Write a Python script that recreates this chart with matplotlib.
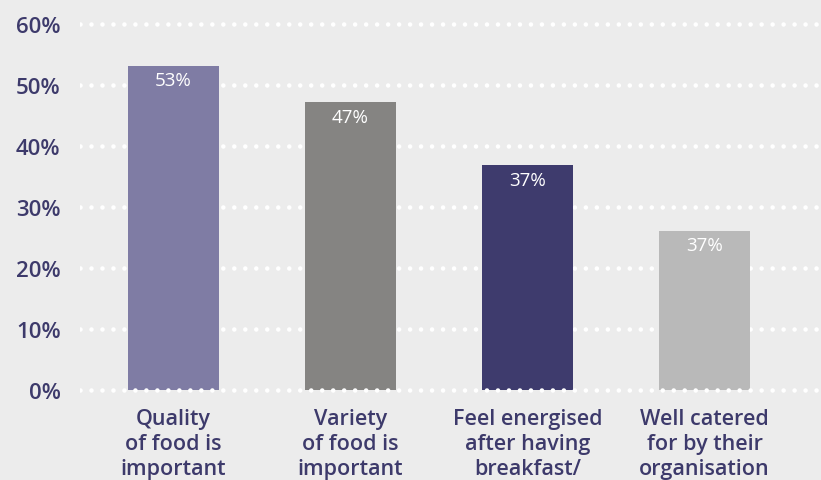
import numpy as np
import matplotlib
matplotlib.use('Agg')
import matplotlib.pyplot as plt

# data
categories = ['Quality\nof food is\nimportant',
              'Variety\nof food is\nimportant',
              'Feel energised\nafter having\nbreakfast/',
              'Well catered\nfor by their\norganisation']
values = [53.2, 47.2, 36.9, 26.1]
bar_labels = ['53%', '47%', '37%', '37%']
yticks = [0, 10, 20, 30, 40, 50, 60]

bar_colors = ['#7f7ca4', '#858482', '#3e3b6d', '#b9b9b9']
navy = '#3d3a6b'
bg = '#ececec'

plt.rcParams['font.family'] = ['Open Sans', 'DejaVu Sans']
plt.rcParams['lines.scale_dashes'] = False

W, H = 821, 481
fig = plt.figure(figsize=(W/100, H/100), dpi=100, facecolor=bg)
# axes in pixel coords: x 80..821, y 19..397
ax = fig.add_axes([80/W, 1-397/H, (821-80)/W, (397-19)/H])
ax.set_facecolor(bg)

x = np.arange(len(categories))
ax.set_xlim(-0.528, 3.658)
ax.set_ylim(-1, 61)

for t in yticks:
    ax.axhline(t, color='white', lw=3.3, linestyle=(0, (0.01, 7.9)),
               dash_capstyle='round', zorder=1 if t > 0 else 3)

bars = ax.bar(x, values, width=0.514, color=bar_colors, zorder=2)
for b, lab in zip(bars, bar_labels):
    ax.text(b.get_x()+b.get_width()/2, b.get_height()-2.4, lab,
            ha='center', va='center', color='white', fontsize=13.5, zorder=4)

ax.set_yticks(yticks)
ax.set_yticklabels([f'{t}%' for t in yticks], color=navy, fontsize=16,
                   fontweight='semibold')
ax.set_xticks(x)
ax.set_xticklabels(categories, color=navy, fontsize=15.5, fontweight='semibold',
                   linespacing=1.22, va='top')
ax.tick_params(axis='both', length=0)
ax.tick_params(axis='y', pad=14)
ax.tick_params(axis='x', pad=9)
for s in ax.spines.values():
    s.set_visible(False)

fig.savefig('out.png', dpi=100, facecolor=bg)
